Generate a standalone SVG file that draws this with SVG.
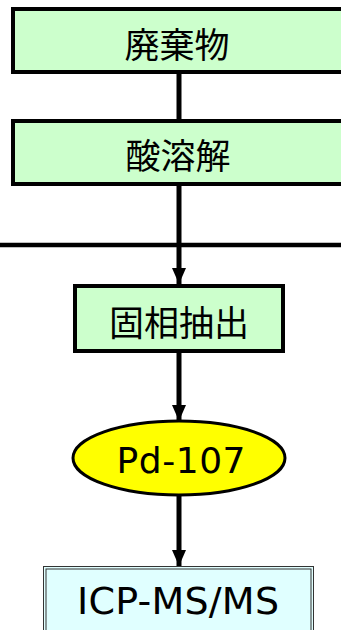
<svg xmlns="http://www.w3.org/2000/svg" width="341" height="630" viewBox="0 0 341 630">
<defs>
<style>
.box{fill:#ccffcc;stroke:#000;stroke-width:4}
.jp{font-family:"Noto Sans CJK JP","Noto Sans CJK SC",sans-serif;font-size:35px;fill:#000;text-anchor:middle;dominant-baseline:central}
.lat{font-family:"DejaVu Sans","Verdana",sans-serif;fill:#000;text-anchor:middle}
.ln{stroke:#000;stroke-width:5;fill:none}
</style>
<marker id="ah" viewBox="0 0 16 14" refX="16" refY="7" markerWidth="16" markerHeight="14" markerUnits="userSpaceOnUse" orient="auto">
<path d="M0,0 L16,7 L0,14 Z" fill="#000"/>
</marker>
</defs>
<g id="connectors">
<line class="ln" x1="179" y1="73" x2="179" y2="120"/>
<line class="ln" x1="179" y1="185" x2="179" y2="284" marker-end="url(#ah)"/>
<line x1="0" y1="245" x2="341" y2="245" stroke="#000" stroke-width="4.5"/>
<line class="ln" x1="179" y1="352" x2="179" y2="421" marker-end="url(#ah)"/>
<line class="ln" x1="179" y1="496" x2="179" y2="566" marker-end="url(#ah)"/>
</g>
<g id="n1">
<rect class="box" x="13" y="9" width="350" height="63"/>
<text class="jp" x="177" y="42">廃棄物</text>
</g>
<g id="n2">
<rect class="box" x="13" y="121" width="350" height="63"/>
<text class="jp" x="178" y="153">酸溶解</text>
</g>
<g id="n3">
<rect class="box" x="75" y="286" width="208" height="65"/>
<text class="jp" x="179" y="320">固相抽出</text>
</g>
<g id="n4">
<ellipse cx="179" cy="458" rx="106" ry="37" fill="#ffff00" stroke="#000" stroke-width="3"/>
<text class="lat" x="181" y="473" font-size="36" textLength="129" lengthAdjust="spacing">Pd-107</text>
</g>
<g id="n5">
<rect x="43.5" y="566.5" width="270" height="80" fill="#e0ffff" stroke="#333" stroke-width="1"/>
<rect x="46" y="569" width="265" height="80" fill="none" stroke="#333" stroke-width="1"/>
<text class="lat" x="178" y="614" font-size="38" textLength="202" lengthAdjust="spacing">ICP-MS/MS</text>
</g>
</svg>
